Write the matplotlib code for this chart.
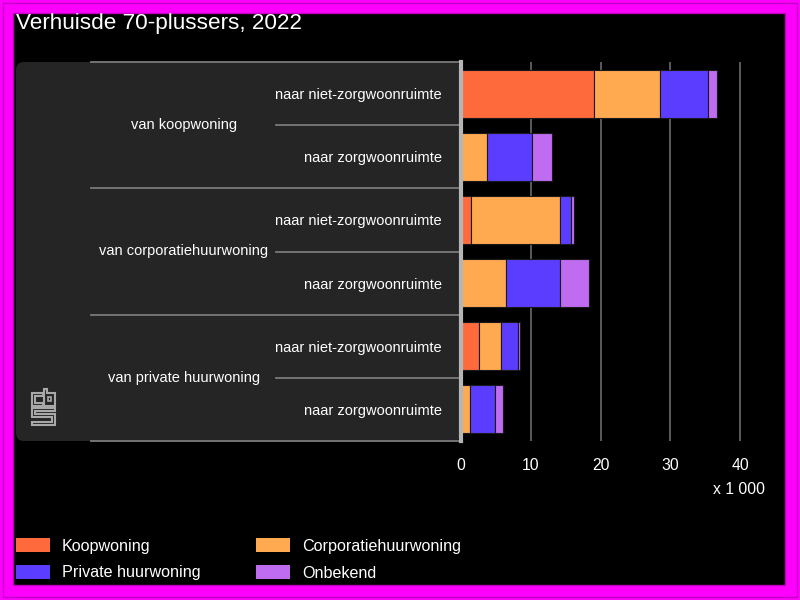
import numpy as np
import matplotlib.pyplot as plt
from matplotlib.patches import Rectangle, FancyBboxPatch, Polygon

plt.rcParams['font.family'] = ['Liberation Sans', 'DejaVu Sans']

# data (x 1 000)
groups = ["van koopwoning", "van corporatiehuurwoning", "van private huurwoning"]
subs = ["naar niet-zorgwoonruimte", "naar zorgwoonruimte"]
series = ["Koopwoning", "Corporatiehuurwoning", "Private huurwoning", "Onbekend"]
colors = ["#ff6a3d", "#ffaa50", "#5a3dff", "#c06cf0"]

koop = [19.0, 0.0, 1.4, 0.0, 2.6, 0.0]
corp = [9.5, 3.7, 12.8, 6.4, 3.2, 1.3]
priv = [6.9, 6.5, 1.6, 7.8, 2.3, 3.6]
onbekend = [1.3, 2.8, 0.4, 4.2, 0.4, 1.1]
values = [koop, corp, priv, onbekend]

xticks = [0, 10, 20, 30, 40]

W, H = 800, 600
fig = plt.figure(figsize=(8, 6), dpi=100, facecolor="#ff00ff")

# background layer in pixel coordinates
bg = fig.add_axes([0, 0, 1, 1], zorder=0)
bg.set_xlim(0, W)
bg.set_ylim(H, 0)
bg.axis("off")
bg.add_patch(Rectangle((3, 3), W - 6, H - 6, fill=False, ec="#c000c0", lw=1))
bg.add_patch(Rectangle((13, 13), 772, 572, fc="black", ec="#c000c0", lw=1))
bg.add_patch(FancyBboxPatch((16, 62), 445, 379, boxstyle="round,pad=0,rounding_size=8",
                            fc="#252525", ec="none"))
bg.text(16, 23, "Verhuisde 70-plussers, 2022", color="white", fontsize=16.2,
        va="center", ha="left")

# cbs logo
grey = "#a8a8a8"
c_pts = [(43, 393), (32, 393), (32, 406), (43, 406), (43, 403), (35, 403), (35, 396), (43, 396)]
b_pts = [(44, 389), (47, 389), (47, 393), (55, 393), (55, 406), (44, 406)]
s_pts = [(32, 408), (55, 408), (55, 411), (35, 411), (35, 414), (55, 414), (55, 425),
         (32, 425), (32, 422), (52, 422), (52, 417), (32, 417)]
for pts in (c_pts, b_pts, s_pts):
    bg.add_patch(Polygon(pts, closed=True, fill=False, ec=grey, lw=1.5))
bg.add_patch(Rectangle((48, 397), 3, 4, fill=False, ec=grey, lw=1.2))

# legend
for i, (name, col) in enumerate(zip(series, colors)):
    cx = [16, 256][i % 2]
    cy = [545, 572][i // 2]
    bg.add_patch(Rectangle((cx, cy - 7), 34, 14, fc=col, ec="none"))
    bg.text(cx + 46, cy + 1, name, color="white", fontsize=11.6, va="center", ha="left")

# bar chart
ax = fig.add_axes([461 / W, 1 - 441 / H, 307 / W, 379 / H], zorder=1)
ax.set_facecolor("none")
n = len(koop)
y = np.arange(n)
left = np.zeros(n)
for vals, col in zip(values, colors):
    ax.barh(y, vals, left=left, height=0.76, color=col, edgecolor="#1a1a1a", lw=0.8, zorder=3)
    left += np.array(vals)

ax.set_ylim(n - 0.5, -0.5)
ax.set_xlim(0, 44)
ax.set_xticks(xticks)
ax.set_xticklabels([str(t) for t in xticks], color="white", fontsize=11.3)
ax.tick_params(axis="x", length=0, pad=12)
ax.set_yticks(y)
ax.set_yticklabels(subs * len(groups), color="white", fontsize=10.5)
ax.tick_params(axis="y", length=0, pad=14)
ax.grid(axis="x", color="#6a6a6a", lw=1.2, zorder=0)
for s in ["top", "right", "bottom"]:
    ax.spines[s].set_visible(False)
ax.spines["left"].set_color("#b5b5b5")
ax.spines["left"].set_linewidth(3)
ax.spines["left"].set_zorder(4)

tr = ax.get_yaxis_transform()
def px(x):
    return (x - 461) / 307

for g, name in enumerate(groups):
    top = 2 * g - 0.5
    ax.plot([px(91), 0], [top, top], transform=tr, color="#7a7a7a", lw=1.3, clip_on=False)
    ax.plot([px(276), 0], [top + 1, top + 1], transform=tr, color="#7a7a7a", lw=1.3, clip_on=False)
    ax.text(px(184), top + 1, name, transform=tr, color="white", fontsize=10.5,
            ha="center", va="center")
ax.plot([px(91), 0], [n - 0.5, n - 0.5], transform=tr, color="#7a7a7a", lw=1.3, clip_on=False)

bg.text(765, 490, "x 1 000", color="white", fontsize=11.3, ha="right", va="center")

fig.savefig("out.png", dpi=100, facecolor=fig.get_facecolor())
